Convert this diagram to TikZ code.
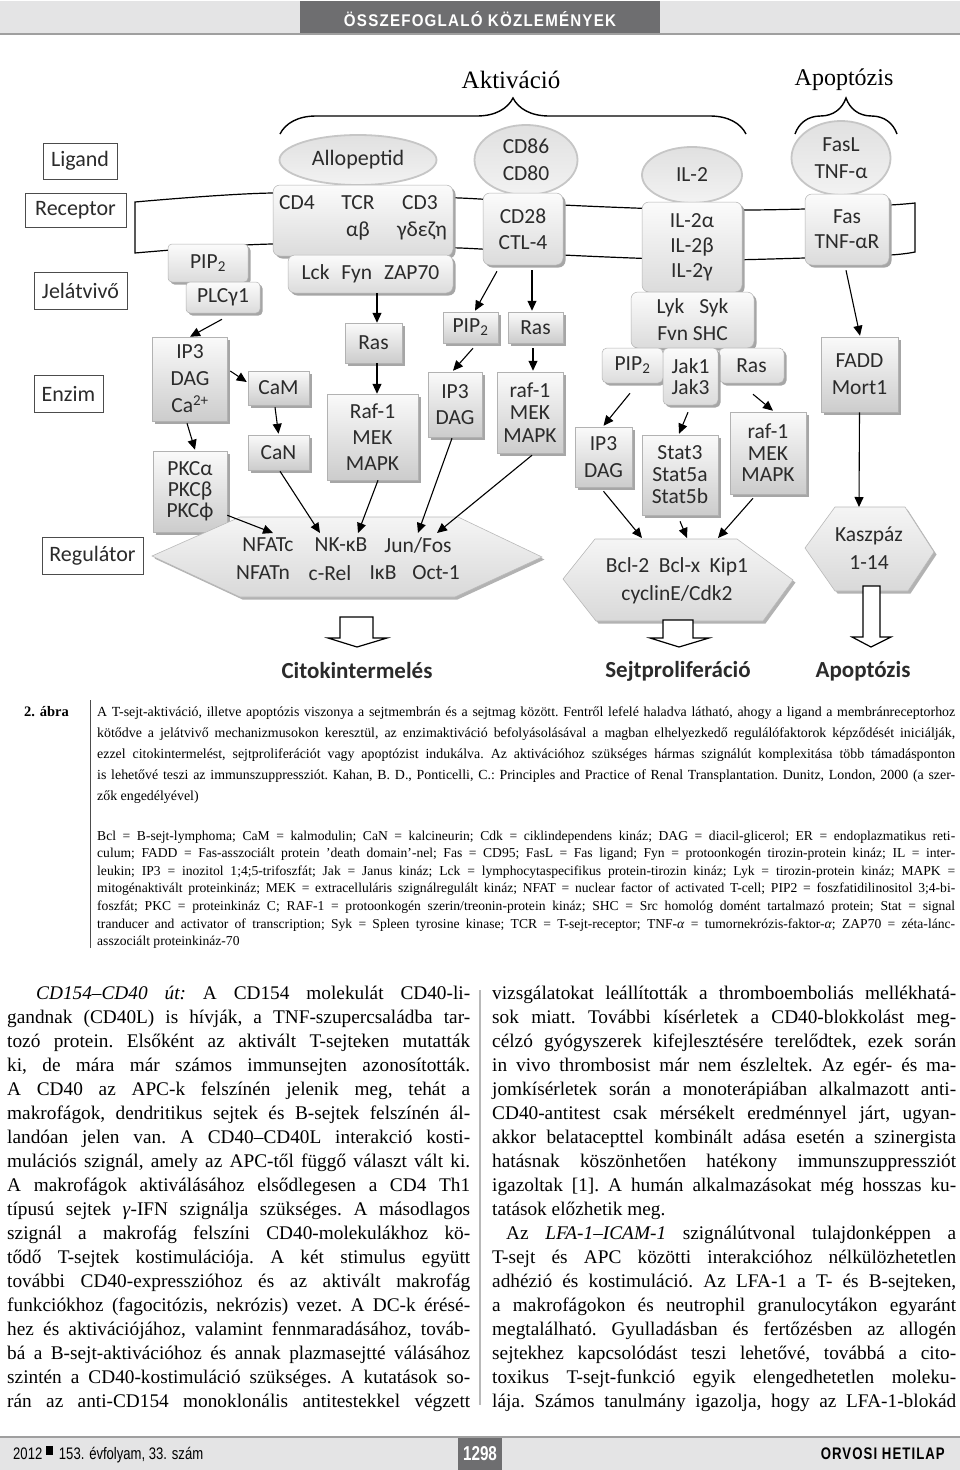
\documentclass[tikz,border=0pt]{standalone}
\usepackage{fontspec}
\setmainfont{Liberation Serif}
\newfontfamily\diag{Carlito}
\newfontfamily\hsans{Liberation Sans}
\newfontfamily\hsansls[LetterSpace=8]{Liberation Sans}
\usetikzlibrary{shadows,decorations.pathreplacing,arrows.meta,shapes.geometric,calc}
\newcommand\fz[2]{\fontsize{#1}{#2}\selectfont}
\newcommand\jl[1]{\makebox[\linewidth][s]{#1}\par}
\newcommand\el[1]{#1\par}
\definecolor{hdr}{HTML}{6E6E70}
\definecolor{band}{HTML}{E4E4E5}
\definecolor{txt}{HTML}{2B2B2B}
\tikzset{
  lab/.style={draw=black!70, line width=0.9pt, fill=white, inner sep=0pt, font=\diag\fz{22}{24}, text=txt},
  bx/.style={draw=gray!60, line width=0.5pt, top color=gray!4, bottom color=gray!40, inner sep=0pt, align=center, text=txt,
     drop shadow={shadow xshift=2.5pt, shadow yshift=-2.5pt, fill=gray!70, opacity=1}},
  rbx/.style={bx, rounded corners=7pt, top color=gray!3, bottom color=gray!28},
  ell/.style={ellipse, draw=gray!45, line width=1.8pt, top color=gray!24, bottom color=gray!10, inner sep=0pt, align=center, text=txt},
  hexs/.style={draw=gray!55, line width=0.6pt, top color=gray!8, bottom color=gray!30,
     drop shadow={shadow xshift=2.5pt, shadow yshift=-2.5pt, fill=gray!60, opacity=1}},
  arr/.style={line width=1.1pt, -{Triangle[length=10pt,width=9pt]}},
  blk/.style={draw=black, line width=1.2pt, fill=white, line join=miter},
  wd/.style={inner sep=0pt, text=txt, font=\diag\fz{21.5}{24}},
  outl/.style={inner sep=0pt, text=txt, font=\diag\bfseries\fz{23}{26}},
  para/.style={anchor=base west, inner sep=0pt},
}
\begin{document}
\begin{tikzpicture}[x=1pt,y=-1pt]
\useasboundingbox (0,0) rectangle (960,1470);
\fill[white] (0,0) rectangle (960,1470);
% ---------- header
\fill[band] (0,1) rectangle (960,33);
\fill[hdr] (300,1) rectangle (660,33);
\draw[gray!75, line width=2pt] (0,34) -- (960,34);
\node[inner sep=0pt, text=white, anchor=base] (hdrt) at (480,26.5) {\resizebox{272pt}{15pt}{\hsansls\bfseries ÖSSZEFOGLALÓ KÖZLEMÉNYEK}};
% ---------- top labels and braces
\node[inner sep=0pt, font=\fz{25}{28}] (akt) at (511,80) {Aktiváció};
\node[inner sep=0pt, font=\fz{24}{28}] (apo) at (844,80) {Apoptózis};
\draw[line width=1.4pt, decorate, decoration={brace, amplitude=36pt}] (280,134) -- (746,134);
\draw[line width=1.4pt, decorate, decoration={brace, amplitude=36pt}] (795,134) -- (897,134);
% ---------- membrane
\draw[line width=1.2pt, line join=miter]
  plot[smooth] coordinates {(135,202) (273,193) (460,198) (563,205) (700,210) (805,209) (890,205) (915,203)}
  -- plot[smooth] coordinates {(915,252) (890,255) (805,258) (700,260) (563,255) (460,248) (273,244) (135,253)} -- cycle;
% ---------- level labels
\node[lab, minimum width=74pt, minimum height=36pt] (lig) at (80,161) {Ligand};
\node[lab, minimum width=101pt, minimum height=34pt] (rec) at (75.5,210) {Receptor};
\node[lab, minimum width=93pt, minimum height=37pt] (jel) at (80.5,290.5) {Jelátvivő};
\node[lab, minimum width=69pt, minimum height=37pt] (enz) at (68.5,393.5) {Enzim};
\node[lab, minimum width=101pt, minimum height=37pt] (reg) at (92.5,555.5) {Regulátor};
% ---------- ligands
\node[ell, minimum width=157pt, minimum height=50pt, font=\diag\fz{22}{24}] (allo) at (358,160) {Allopeptid};
\node[ell, minimum width=103pt, minimum height=70pt, font=\diag\fz{21.5}{27}] (cd86) at (526,160) {CD86\\CD80};
\node[ell, minimum width=100pt, minimum height=56pt, font=\diag\fz{21.5}{24}] (il2) at (692,175) {IL-2};
\node[ell, minimum width=99pt, minimum height=74pt, font=\diag\fz{21.5}{27}] (fasl) at (841,158) {FasL\\TNF-α};
% ---------- receptors
\node[rbx, minimum width=180pt, minimum height=71pt] (tcr) at (363,220.5) {};
\node[wd] (t1) at (297,203) {CD4};
\node[wd] (t2) at (358,203) {TCR};
\node[wd] (t3) at (420,203) {CD3};
\node[wd] (t4) at (358,231) {αβ};
\node[wd] (t5) at (422,231) {γδεζη};
\node[rbx, minimum width=165pt, minimum height=38pt, font=\diag\fz{21.5}{24}] (lck) at (370.5,274) {Lck\hspace{0.55em}Fyn\hspace{0.55em}ZAP70};
\node[rbx, rounded corners=4pt, minimum width=80pt, minimum height=38pt, font=\diag\fz{21.5}{24}] (pipL) at (208,263) {PIP\textsubscript{2}};
\node[rbx, rounded corners=4pt, minimum width=74pt, minimum height=31pt, font=\diag\fz{21.5}{24}] (plc) at (223,297.5) {PLCγ1};
\node[rbx, minimum width=80pt, minimum height=72pt, font=\diag\fz{21.5}{26}] (cd28) at (523,229) {CD28\\CTL-4};
\node[rbx, minimum width=100pt, minimum height=90pt, font=\diag\fz{21.5}{25}] (il2r) at (692,247) {IL-2α\\IL-2β\\IL-2γ};
\node[rbx, minimum width=123pt, minimum height=56pt, font=\diag\fz{21.5}{27}] (lyk) at (692.5,320) {Lyk\hspace{0.7em}Syk\\Fvn SHC};
\node[rbx, rounded corners=5pt, minimum width=61pt, minimum height=35pt, font=\diag\fz{21.5}{24}] (pipR) at (632.5,365.5) {PIP\textsubscript{2}};
\node[rbx, rounded corners=5pt, minimum width=65pt, minimum height=35pt, font=\diag\fz{21.5}{24}] (rasR) at (751.5,365.5) {Ras};
\node[rbx, rounded corners=5pt, minimum width=55pt, minimum height=57pt, font=\diag\fz{21.5}{21}] (jak) at (690.5,376.5) {Jak1\\Jak3};
\node[rbx, minimum width=84pt, minimum height=71pt, font=\diag\fz{21.5}{25}] (fas) at (847,229.5) {Fas\\TNF-αR};
% ---------- enzyme boxes
\node[bx, minimum width=75pt, minimum height=84pt, font=\diag\fz{21.5}{27}] (ip3L) at (190,379) {IP3\\DAG\\Ca\textsuperscript{2+}};
\node[bx, minimum width=61pt, minimum height=34pt, font=\diag\fz{21.5}{24}] (cam) at (278.5,388) {CaM};
\node[bx, minimum width=61pt, minimum height=35pt, font=\diag\fz{21.5}{24}] (can) at (278.5,452.5) {CaN};
\node[bx, minimum width=74pt, minimum height=81pt, font=\diag\fz{21.5}{21}] (pkc) at (190,491.5) {PKCα\\PKCβ\\PKCϕ};
\node[bx, minimum width=57pt, minimum height=40pt, font=\diag\fz{21.5}{24}] (rasL) at (373.5,343) {Ras};
\node[bx, minimum width=91pt, minimum height=86pt, font=\diag\fz{21.5}{26}] (rafL) at (372.5,437) {Raf-1\\MEK\\MAPK};
\node[bx, minimum width=55pt, minimum height=31pt, font=\diag\fz{21.5}{24}] (pipM) at (470.5,327.5) {PIP\textsubscript{2}};
\node[bx, minimum width=55pt, minimum height=31pt, font=\diag\fz{21.5}{24}] (rasM) at (535.5,327.5) {Ras};
\node[bx, minimum width=54pt, minimum height=65pt, font=\diag\fz{21.5}{26}] (ip3M) at (455,404.5) {IP3\\DAG};
\node[bx, minimum width=66pt, minimum height=81pt, font=\diag\fz{21.5}{22.5}] (rafM) at (530,412.5) {raf-1\\MEK\\MAPK};
\node[bx, minimum width=57pt, minimum height=60pt, font=\diag\fz{21.5}{27}] (ip3R) at (603.5,457) {IP3\\DAG};
\node[bx, minimum width=76pt, minimum height=80pt, font=\diag\fz{21.5}{22}] (stat) at (680,475) {Stat3\\Stat5a\\Stat5b};
\node[bx, minimum width=76pt, minimum height=82pt, font=\diag\fz{21.5}{21.5}] (rafR) at (768,453) {raf-1\\MEK\\MAPK};
\node[bx, minimum width=77pt, minimum height=75pt, font=\diag\fz{21.5}{27}] (fadd) at (859.5,374.5) {FADD\\Mort1};
% ---------- regulator hexagons
\path[hexs] (152,556) -- (240,517) -- (458,517) -- (542,557) -- (455,597) -- (240,597) -- cycle;
\path[hexs] (563,579) -- (595,539) -- (737,539) -- (793,580) -- (763,621) -- (596,621) -- cycle;
\path[hexs] (805,548) -- (835,507) -- (905,507) -- (934,552) -- (908,591) -- (835,591) -- cycle;
\node[wd] (r1) at (268,545) {NFATc};
\node[wd] (r2) at (341,545) {NK-κB};
\node[wd] (r3) at (418,545) {Jun/Fos};
\node[wd] (r4) at (263,573) {NFATn};
\node[wd] (r5) at (330,573) {c-Rel};
\node[wd] (r6) at (383,573) {IκB};
\node[wd] (r7) at (436,573) {Oct-1};
\node[wd] (b1t) at (677,567) {Bcl-2\hspace{0.45em}Bcl-x\hspace{0.45em}Kip1};
\node[wd] (b2t) at (677,595) {cyclinE/Cdk2};
\node[wd] (k1t) at (869,536) {Kaszpáz};
\node[wd] (k2t) at (869,563) {1-14};
\coordinate (n1) at (273,533);
\coordinate (n2) at (320,533);
\coordinate (n3) at (358,533);
\coordinate (n4) at (418,533);
\coordinate (n5) at (437,533);
\coordinate (c1) at (642,538);
\coordinate (c2) at (687,538);
\coordinate (c3) at (718,538);
\coordinate (kz) at (859,507);
% ---------- arrows
\draw[arr] ($(plc.south)+(-1,6)$) -- (ip3L.north);
\draw[arr] ($(ip3L.east)+(2.5,-8)$) -- ($(cam.west)+(-1,-6)$);
\draw[arr] ($(cam.south)+(-3.5,2)$) -- ($(can.north)+(0,-1)$);
\draw[arr] ($(ip3L.south)+(-3,2)$) -- ($(pkc.north)+(5,-1)$);
\draw[arr] ($(pkc.south east)+(0,-17)$) -- (n1);
\draw[arr] ($(can.south)+(1.5,1)$) -- (n2);
\draw[arr] ($(rafL.south)+(5.5,0)$) -- (n3);
\draw[arr] ($(ip3M.south)+(-3,1)$) -- (n4);
\draw[arr] ($(rafM.south)+(2,2)$) -- (n5);
\draw[arr] ($(lck.south)+(6.5,0)$) -- ($(rasL.north)+(3.5,0)$);
\draw[arr] ($(rasL.south)+(3.5,0)$) -- ($(rafL.north)+(4.5,0)$);
\draw[arr] ($(cd28.south)+(-26,6)$) -- ($(pipM.north)+(4.5,-1)$);
\draw[arr] ($(cd28.south)+(9,5)$) -- ($(rasM.north)+(-3.5,-1)$);
\draw[arr] ($(pipM.south)+(2.5,5)$) -- ($(ip3M.north)+(-2,-1)$);
\draw[arr] ($(rasM.south)+(-2.5,5)$) -- ($(rafM.north)+(3,-1)$);
\draw[arr] ($(pipR.south)+(-2.5,10)$) -- ($(ip3R.north)+(0,-1)$);
\draw[arr] ($(jak.south)+(-2.5,7)$) -- ($(stat.north)+(-1,-1)$);
\draw[arr] ($(rasR.south)+(1.5,11)$) -- ($(rafR.north)+(5,-1)$);
\draw[arr] ($(ip3R.south)+(0,4)$) -- (c1);
\draw[arr] ($(stat.south)+(0,6)$) -- (c2);
\draw[arr] ($(rafR.south)+(-15,4)$) -- (c3);
\draw[arr] ($(fas.south)+(-1,5)$) -- ($(fadd.north)+(0.5,-1)$);
\draw[arr] (fadd.south) -- (kz);
% ---------- block arrows
\draw[blk] (340,617) -- (373,617) -- (373,638) -- (387,638) -- (357,647) -- (328,638) -- (340,638) -- cycle;
\draw[blk] (663,620) -- (693,620) -- (693,638) -- (709,638) -- (679,647) -- (650,638) -- (663,638) -- cycle;
\draw[blk] (863,586) -- (880,586) -- (880,637) -- (891,637) -- (871,647) -- (852,637) -- (863,637) -- cycle;
\node[outl] (o1) at (357,671) {Citokintermelés};
\node[outl] (o2) at (678,671) {Sejtproliferáció};
\node[outl] (o3) at (863,671) {Apoptózis};
% ---------- caption
\draw[black!70, line width=0.8pt] (90,700) -- (90,948);
\node[para, font=\bfseries\fz{14.5}{16}] (abra) at (24,716) {2. ábra};
\node[para] (cap) at (97,716) {\parbox[t]{858pt}{\setlength{\parskip}{0pt}\frenchspacing\fz{13.9}{21}%
\jl{A T-sejt-aktiváció, illetve apoptózis viszonya a sejtmembrán és a sejtmag között. Fentről lefelé haladva látható, ahogy a ligand a membránreceptorhoz}
\jl{kötődve a jelátvivő mechanizmusokon keresztül, az enzimaktiváció befolyásolásával a magban elhelyezkedő regulálófaktorok képződését iniciálják,}
\jl{ezzel citokintermelést, sejtproliferációt vagy apoptózist indukálva. Az aktivációhoz szükséges hármas szignálút komplexitása több támadásponton}
\jl{is lehetővé teszi az immunszuppressziót. Kahan, B. D., Ponticelli, C.: Principles and Practice of Renal Transplantation. Dunitz, London, 2000 (a szer-}
\el{zők engedélyével)}}};
\node[para] (abbr) at (97,840) {\parbox[t]{858pt}{\setlength{\parskip}{0pt}\frenchspacing\fz{13.6}{17.6}%
\jl{Bcl = B-sejt-lymphoma; CaM = kalmodulin; CaN = kalcineurin; Cdk = ciklindependens kináz; DAG = diacil-glicerol; ER = endoplazmatikus reti-}
\jl{culum; FADD = Fas-asszociált protein ’death domain’-nel; Fas = CD95; FasL = Fas ligand; Fyn = protoonkogén tirozin-protein kináz; IL = inter-}
\jl{leukin; IP3 = inozitol 1;4;5-trifoszfát; Jak = Janus kináz; Lck = lymphocytaspecifikus protein-tirozin kináz; Lyk = tirozin-protein kináz; MAPK =}
\jl{mitogénaktivált proteinkináz; MEK = extracelluláris szignálregulált kináz; NFAT = nuclear factor of activated T-cell; PIP2 = foszfatidilinositol 3;4-bi-}
\jl{foszfát; PKC = proteinkináz C; RAF-1 = protoonkogén szerin/treonin-protein kináz; SHC = Src homológ domént tartalmazó protein; Stat = signal}
\jl{tranducer and activator of transcription; Syk = Spleen tyrosine kinase; TCR = T-sejt-receptor; TNF-\textit{α} = tumornekrózis-faktor-\textit{α}; ZAP70 = zéta-lánc-}
\el{asszociált proteinkináz-70}}};
% ---------- body columns
\draw[gray!55, line width=1.5pt] (480,990) -- (480,1405);
\node[para] (colL) at (7,999) {\parbox[t]{463pt}{\setlength{\parskip}{0pt}\frenchspacing\fz{19.3}{24}%
\jl{\hspace*{29pt}\textit{CD154–CD40 út:} A CD154 molekulát CD40-li-}
\jl{gandnak (CD40L) is hívják, a TNF-szupercsaládba tar-}
\jl{tozó protein. Elsőként az aktivált T-sejteken mutatták}
\jl{ki, de mára már számos immunsejten azonosították.}
\jl{A CD40 az APC-k felszínén jelenik meg, tehát a}
\jl{makrofágok, dendritikus sejtek és B-sejtek felszínén ál-}
\jl{landóan jelen van. A CD40–CD40L interakció kosti-}
\jl{mulációs szignál, amely az APC-től függő választ vált ki.}
\jl{A makrofágok aktiválásához elsődlegesen a CD4 Th1}
\jl{típusú sejtek \textit{γ}-IFN szignálja szükséges. A másodlagos}
\jl{szignál a makrofág felszíni CD40-molekulákhoz kö-}
\jl{tődő T-sejtek kostimulációja. A két stimulus együtt}
\jl{további CD40-expresszióhoz és az aktivált makrofág}
\jl{funkciókhoz (fagocitózis, nekrózis) vezet. A DC-k érésé-}
\jl{hez és aktivációjához, valamint fennmaradásához, továb-}
\jl{bá a B-sejt-aktivációhoz és annak plazmasejtté válásához}
\jl{szintén a CD40-kostimuláció szükséges. A kutatások so-}
\jl{rán az anti-CD154 monoklonális antitestekkel végzett}}};
\node[para] (colR) at (492,999) {\parbox[t]{464pt}{\setlength{\parskip}{0pt}\frenchspacing\fz{19.3}{24}%
\jl{vizsgálatokat leállították a thromboemboliás mellékhatá-}
\jl{sok miatt. További kísérletek a CD40-blokkolást meg-}
\jl{célzó gyógyszerek kifejlesztésére terelődtek, ezek során}
\jl{in vivo thrombosist már nem észleltek. Az egér- és ma-}
\jl{jomkísérletek során a monoterápiában alkalmazott anti-}
\jl{CD40-antitest csak mérsékelt eredménnyel járt, ugyan-}
\jl{akkor belatacepttel kombinált adása esetén a szinergista}
\jl{hatásnak köszönhetően hatékony immunszuppressziót}
\jl{igazoltak [1]. A humán alkalmazásokat még hosszas ku-}
\el{tatások előzhetik meg.}
\jl{\hspace*{14pt}Az \textit{LFA-1–ICAM-1} szignálútvonal tulajdonképpen a}
\jl{T-sejt és APC közötti interakcióhoz nélkülözhetetlen}
\jl{adhézió és kostimuláció. Az LFA-1 a T- és B-sejteken,}
\jl{a makrofágokon és neutrophil granulocytákon egyaránt}
\jl{megtalálható. Gyulladásban és fertőzésben az allogén}
\jl{sejtekhez kapcsolódást teszi lehetővé, továbbá a cito-}
\jl{toxikus T-sejt-funkció egyik elengedhetetlen moleku-}
\jl{lája. Számos tanulmány igazolja, hogy az LFA-1-blokád}}};
% ---------- footer
\fill[band] (0,1438) rectangle (960,1470);
\draw[gray!75, line width=2pt] (0,1437) -- (960,1437);
\fill[hdr] (458,1438) rectangle (502,1470);
\node[para] (ft1) at (13,1459) {\resizebox{190pt}{12.7pt}{\hsans 2012 \raisebox{0.4ex}{\rule{0.55em}{0.55em}} \,153. évfolyam, 33. szám}};
\node[inner sep=0pt, anchor=base, text=white] (pg) at (480,1460) {\resizebox{34pt}{14pt}{\hsans\bfseries 1298}};
\node[inner sep=0pt, anchor=base east] (orv) at (945,1459) {\resizebox{124pt}{11.7pt}{\hsansls\bfseries ORVOSI HETILAP}};
\end{tikzpicture}
\end{document}
